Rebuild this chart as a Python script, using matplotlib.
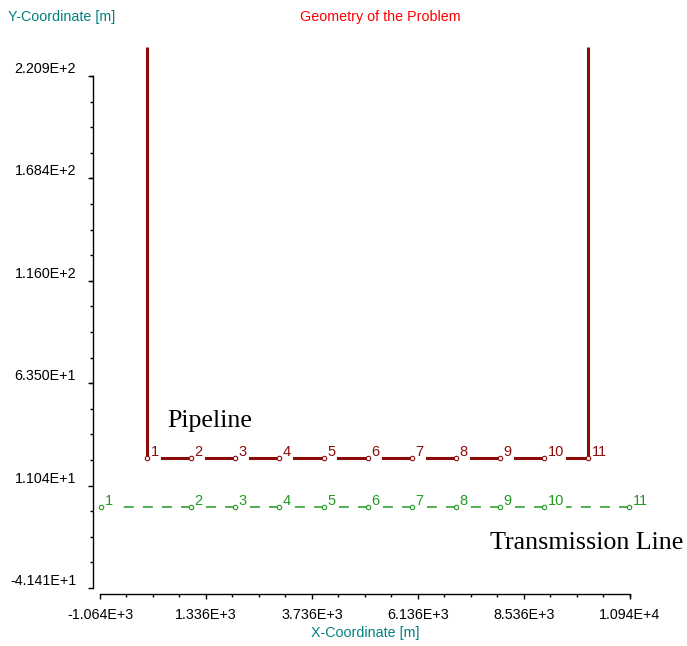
# Geometry of the problem: pipeline and transmission line
import matplotlib.pyplot as plt
from matplotlib.ticker import FixedLocator, AutoMinorLocator

# data
pipe_x = [0, 1000, 2000, 3000, 4000, 5000, 6000, 7000, 8000, 9000, 10000]
pipe_y = [25] * 11
riser_top = 236
line_x = [-1040, 1000, 2000, 3000, 4000, 5000, 6000, 7000, 8000, 9000, 10920]
line_y = [0] * 11
node_labels = [str(i) for i in range(1, 12)]

xticks = [-1064, 1336, 3736, 6136, 8536, 10940]
xtick_labels = ["-1.064E+3", "1.336E+3", "3.736E+3", "6.136E+3", "8.536E+3", "1.094E+4"]
yticks = [-41.41, 11.04, 63.50, 116.0, 168.4, 220.9]
ytick_labels = ["-4.141E+1", "1.104E+1", "6.350E+1", "1.160E+2", "1.684E+2", "2.209E+2"]

red = "#8c0a0a"
green = "#229922"
teal = "#008080"
sans = "Liberation Sans"

W, H = 687, 646
fig = plt.figure(figsize=(W / 100, H / 100), dpi=100)
ax = fig.add_axes([100 / W, 1 - 588 / H, 530 / W, 512 / H])
ax.set_xlim(xticks[0], xticks[-1])
ax.set_ylim(yticks[0], yticks[-1])

# spines: only left and bottom, pushed out a bit
ax.spines["top"].set_visible(False)
ax.spines["right"].set_visible(False)
ax.spines["left"].set_position(("outward", 5))
ax.spines["bottom"].set_position(("outward", 4.5))
for s in ["left", "bottom"]:
    ax.spines[s].set_linewidth(1.0)

ax.xaxis.set_major_locator(FixedLocator(xticks))
ax.yaxis.set_major_locator(FixedLocator(yticks))
ax.xaxis.set_minor_locator(AutoMinorLocator(4))
ax.yaxis.set_minor_locator(AutoMinorLocator(4))
ax.set_xticklabels(xtick_labels)
ax.set_yticklabels(ytick_labels)
ax.tick_params(which="major", length=3.6, width=1.0, labelsize=10.3)
ax.tick_params(which="minor", length=2.2, width=1.0)
ax.tick_params(axis="y", which="major", pad=8.5)
ax.tick_params(axis="x", which="major", pad=6)
for lab in ax.get_xticklabels() + ax.get_yticklabels():
    lab.set_fontfamily(sans)
for lab in ax.get_yticklabels():
    lab.set_va("bottom")

# pipeline (solid) with the two vertical risers on top
ax.plot(pipe_x, pipe_y, color=red, lw=2.2, solid_capstyle="butt", zorder=2)
ax.plot([pipe_x[0], pipe_x[0]], [pipe_y[0], riser_top], color=red, lw=2.2,
        solid_capstyle="butt", clip_on=False, zorder=3.5)
ax.plot([pipe_x[-1], pipe_x[-1]], [pipe_y[-1], riser_top], color=red, lw=2.2,
        solid_capstyle="butt", clip_on=False, zorder=3.5)
ax.plot(pipe_x, pipe_y, "o", ms=3.2, mfc="white", mec=red, mew=0.8,
        clip_on=False, zorder=4)

# transmission line (dashed), each span drawn from its right node
for i in range(len(line_x) - 1):
    ax.plot([line_x[i + 1], line_x[i]], [line_y[i + 1], line_y[i]], color=green,
            lw=1.1, dashes=(6.5, 6), clip_on=False, zorder=2)
ax.plot(line_x, line_y, "o", ms=3.2, mfc="white", mec=green, mew=0.8,
        clip_on=False, zorder=4)

# node numbers with white background covering the line
for xs, ys, c in [(pipe_x, pipe_y, red), (line_x, line_y, green)]:
    for x, y, t in zip(xs, ys, node_labels):
        ax.annotate(t, (x, y), xytext=(2.5, 1.5), textcoords="offset points",
                    ha="left", va="baseline", color=c, fontsize=10.5,
                    family=sans, zorder=3, annotation_clip=False,
                    bbox=dict(boxstyle="square,pad=0.15", fc="white", ec="none"))

# annotations
ax.text(453, 41.0, "Pipeline", family="Liberation Serif", fontsize=18.7,
        va="baseline", ha="left")
ax.text(7769, -21.4, "Transmission Line", family="Liberation Serif",
        fontsize=18.7, va="baseline", ha="left", clip_on=False)

# titles
fig.text(8 / W, 1 - 17 / H, "Y-Coordinate [m]", color=teal, fontsize=10.3,
         family=sans, ha="left", va="center")
fig.text(380 / W, 1 - 17 / H, "Geometry of the Problem", color="#ff0000",
         fontsize=10.3, family=sans, ha="center", va="center")
fig.text(365 / W, 1 - 633 / H, "X-Coordinate [m]", color=teal, fontsize=10.3,
         family=sans, ha="center", va="center")

fig.savefig("out.png", dpi=100)
